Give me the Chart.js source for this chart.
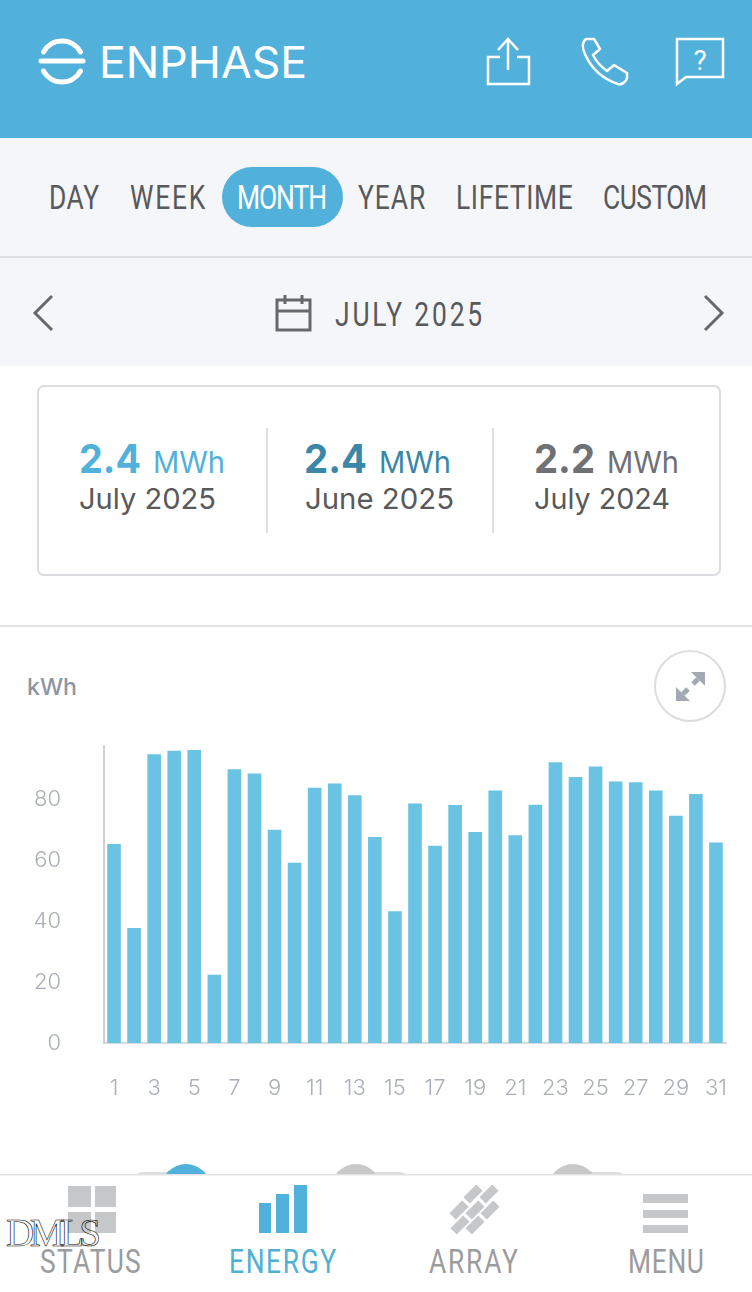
<!DOCTYPE html>
<html>
<head>
<meta charset="utf-8">
<title>Enphase energy - July 2025</title>
<script src="https://cdn.jsdelivr.net/npm/chart.js@4/dist/chart.umd.min.js"></script>
<style>
html, body { margin: 0; padding: 0; background: #fff; }
#page { position: relative; width: 752px; height: 1292px; overflow: hidden; }
#chrome, #chart { position: absolute; left: 0; }
#chrome { top: 0; }
#chart { top: 730px; }
.narrow { font-family: "Roboto", sans-serif; }
.round { font-family: "Inter", "Lato", sans-serif; }
</style>
</head>
<body>
<div id="page">
<svg id="chrome" width="752" height="1292" viewBox="0 0 752 1292" xmlns="http://www.w3.org/2000/svg">
  <!-- header -->
  <rect x="0" y="0" width="752" height="138" fill="#52b1db"/>
  <g fill="none" stroke="#fff" stroke-width="5" stroke-linecap="round">
    <path d="M43.5 52 A21 21 0 0 1 80.5 52"/>
    <path d="M41 61 H83"/>
    <path d="M43.5 71 A21 21 0 0 0 80.5 71"/>
  </g>
  <text class="round" x="99" y="78" font-size="44" fill="#fff" textLength="208" lengthAdjust="spacingAndGlyphs">ENPHASE</text>
  <g fill="none" stroke="#fff" stroke-width="2.5">
    <path d="M500 57 H488 V84 H529 V57 H517"/>
    <path d="M508 70 V40 M498 50 L508 39 L518 50"/>
    <path d="M586 39 C582 42 582 48 585 54 C591 68 603 79 618 84 C622 85 626 82 627 78 L627 73 L614 65 L607 71 C600 66 596 61 593 55 L600 49 L594 39 Z" stroke-linejoin="round"/>
    <path d="M677 39 H723 V77 H686 L677 84 Z"/>
  </g>
  <text class="narrow" x="700" y="70" font-size="28" fill="#fff" text-anchor="middle">?</text>

  <!-- period tabs -->
  <rect x="0" y="138" width="752" height="228" fill="#f5f6fa"/>
  <rect x="222" y="167" width="121" height="60" rx="30" fill="#52b1db"/>
  <g class="narrow" font-size="33" fill="#58595b">
    <text transform="translate(49 209) scale(.8 1)" textLength="62.5">DAY</text>
    <text transform="translate(130 209) scale(.8 1)" textLength="94">WEEK</text>
    <text transform="translate(237 209) scale(.8 1)" textLength="112.5" fill="#fff">MONTH</text>
    <text transform="translate(358 209) scale(.8 1)" textLength="84">YEAR</text>
    <text transform="translate(456 209) scale(.8 1)" textLength="146">LIFETIME</text>
    <text transform="translate(603 209) scale(.8 1)" textLength="130">CUSTOM</text>
    <text transform="translate(335 326) scale(.8 1)" textLength="184">JULY 2025</text>
  </g>
  <rect x="0" y="256" width="752" height="2" fill="#dcdfe4"/>
  <g fill="none" stroke="#66686b" stroke-width="3">
    <path d="M52 296 L35 313 L52 330"/>
    <path d="M705 296 L722 313 L705 330"/>
    <rect x="277" y="300" width="33" height="30"/>
    <path d="M277 311 H310 M285 295 V304 M302 295 V304"/>
  </g>

  <!-- totals card -->
  <rect x="38" y="386" width="682" height="189" rx="6" fill="#fff" stroke="#dadcdf" stroke-width="2"/>
  <rect x="266" y="428" width="2" height="105" fill="#dfe0e2"/>
  <rect x="492" y="428" width="2" height="105" fill="#dfe0e2"/>
  <g class="round">
    <text x="79" y="473" font-size="40" font-weight="700" fill="#52b1db" textLength="62" lengthAdjust="spacingAndGlyphs">2.4</text>
    <text x="153" y="473" font-size="30" fill="#52b1db" textLength="72" lengthAdjust="spacingAndGlyphs">MWh</text>
    <text x="79" y="509" font-size="29" fill="#58595b" textLength="137" lengthAdjust="spacingAndGlyphs">July 2025</text>
    <text x="304" y="473" font-size="40" font-weight="700" fill="#3a87a8" textLength="63" lengthAdjust="spacingAndGlyphs">2.4</text>
    <text x="379" y="473" font-size="30" fill="#3a87a8" textLength="72" lengthAdjust="spacingAndGlyphs">MWh</text>
    <text x="305" y="509" font-size="29" fill="#58595b" textLength="149" lengthAdjust="spacingAndGlyphs">June 2025</text>
    <text x="534" y="473" font-size="40" font-weight="700" fill="#6f7175" textLength="61" lengthAdjust="spacingAndGlyphs">2.2</text>
    <text x="607" y="473" font-size="30" fill="#6f7175" textLength="72" lengthAdjust="spacingAndGlyphs">MWh</text>
    <text x="534" y="509" font-size="29" fill="#58595b" textLength="136" lengthAdjust="spacingAndGlyphs">July 2024</text>
  </g>
  <rect x="0" y="625" width="752" height="2" fill="#e2e3e5"/>

  <!-- chart heading -->
  <text class="round" x="27" y="695" font-size="23" font-weight="500" fill="#8f96a3" textLength="50" lengthAdjust="spacingAndGlyphs">kWh</text>
  <circle cx="690" cy="686" r="35" fill="#fff" stroke="#dcdde0" stroke-width="2"/>
  <g fill="#a3a8b3" stroke="#a3a8b3" stroke-width="0">
    <path d="M705 672 V686 L691 672 Z"/>
    <path d="M676 701 V687 L690 701 Z"/>
    <path d="M698 679 L693 684 M683 694 L688 689" stroke-width="5"/>
  </g>

  <!-- toggles, cut off by the nav bar -->
  <rect x="129" y="1172" width="83" height="30" rx="15" fill="#dcdcdc"/>
  <rect x="330" y="1172" width="83" height="30" rx="15" fill="#dcdcdc"/>
  <rect x="548" y="1172" width="83" height="30" rx="15" fill="#dcdcdc"/>
  <circle cx="186" cy="1189" r="25" fill="#52b1db"/>
  <circle cx="356" cy="1189" r="25" fill="#c8c8c8"/>
  <circle cx="573" cy="1189" r="25" fill="#c8c8c8"/>

  <!-- bottom nav -->
  <rect x="0" y="1174" width="752" height="118" fill="#fff"/>
  <rect x="0" y="1174" width="752" height="1.5" fill="#e3e3e3"/>
  <g fill="#c6c7c9">
    <rect x="68" y="1186" width="23" height="21"/>
    <rect x="95" y="1186" width="21" height="21"/>
    <rect x="68" y="1212" width="23" height="21"/>
    <rect x="95" y="1212" width="21" height="21"/>
    <rect x="643" y="1194" width="45" height="9"/>
    <rect x="643" y="1210" width="45" height="8"/>
    <rect x="643" y="1225" width="45" height="8"/>
    <rect x="-9" y="-4.5" width="18" height="9" transform="translate(473 1194) rotate(-45)"/>
    <rect x="-9" y="-4.5" width="18" height="9" transform="translate(489 1194) rotate(-45)"/>
    <rect x="-9" y="-4.5" width="18" height="9" transform="translate(459 1210) rotate(-45)"/>
    <rect x="-9" y="-4.5" width="18" height="9" transform="translate(475 1210) rotate(-45)"/>
    <rect x="-9" y="-4.5" width="18" height="9" transform="translate(490 1210) rotate(-45)"/>
    <rect x="-9" y="-4.5" width="18" height="9" transform="translate(460 1225) rotate(-45)"/>
    <rect x="-9" y="-4.5" width="18" height="9" transform="translate(475 1225) rotate(-45)"/>
  </g>
  <g fill="#52b1db">
    <rect x="259" y="1203" width="12" height="30"/>
    <rect x="276" y="1194" width="13" height="39"/>
    <rect x="294" y="1185" width="13" height="48"/>
  </g>
  <g class="narrow" font-size="33">
    <text transform="translate(40 1273) scale(.8 1)" fill="#9b9c9e" textLength="126">STATUS</text>
    <text transform="translate(229 1273) scale(.8 1)" fill="#4fb0d4" textLength="134">ENERGY</text>
    <text transform="translate(429 1273) scale(.8 1)" fill="#9b9c9e" textLength="111">ARRAY</text>
    <text transform="translate(628 1273) scale(.8 1)" fill="#9b9c9e" textLength="95">MENU</text>
  </g>
  <text x="6" y="1246" font-family="Liberation Serif" font-size="39" fill="none" stroke="#000" stroke-width="0.6" textLength="95">DMLS</text>
</svg>
<canvas id="chart" width="752" height="380"></canvas>
</div>

<script>
// ----------- Data -----------
const days = ["1","2","3","4","5","6","7","8","9","10","11","12","13","14","15","16",
              "17","18","19","20","21","22","23","24","25","26","27","28","29","30","31"];
const kwh = [65.4, 37.8, 94.9, 96.0, 96.3, 22.4, 90.0, 88.6, 70.1, 59.2, 83.9, 85.3, 81.4, 67.7, 43.3, 78.7,
             64.8, 78.2, 69.3, 83.0, 68.3, 78.3, 92.3, 87.4, 90.9, 85.9, 85.7, 83.0, 74.7, 81.8, 65.9];
const yTicks = [0, 20, 40, 60, 80];
const yMax = 97.6;

// ----------- Chart -----------
const tickFont = { family: "Inter, Lato, sans-serif", size: 22, weight: "300" };

new Chart(document.getElementById("chart"), {
    type: "bar",
    data: {
        labels: days,
        datasets: [{
            data: kwh,
            backgroundColor: "#6bc3e3",
            categoryPercentage: 1,
            barPercentage: 0.68
        }]
    },
    options: {
        responsive: false,
        animation: false,
        devicePixelRatio: 1,
        layout: { padding: { top: 16, right: 26, left: 0, bottom: 0 } },
        plugins: { legend: { display: false }, tooltip: { enabled: false } },
        scales: {
            x: {
                grid: { display: false },
                border: { display: true, color: "#dcdcdc", width: 2 },
                // fixed axis box, the padding chart.js adds for tick labels would shrink the bars
                afterFit: s => { s.height = 67; s.paddingLeft = 0; s.paddingRight = 0; },
                ticks: {
                    autoSkip: false,
                    maxRotation: 0,
                    padding: 24,
                    color: "#a9aeb8",
                    font: tickFont,
                    callback: (v, i) => (i % 2 ? "" : days[i])
                }
            },
            y: {
                min: 0,
                max: yMax,
                grid: { display: false },
                border: { display: true, color: "#d0d0d0", width: 2 },
                afterFit: s => { s.width = 104; s.paddingTop = 0; s.paddingBottom = 0; },
                afterBuildTicks: s => { s.ticks = yTicks.map(v => ({ value: v })); },
                ticks: {
                    padding: 35,
                    color: "#a9aeb8",
                    font: tickFont
                }
            }
        }
    }
});
</script>
</body>
</html>
